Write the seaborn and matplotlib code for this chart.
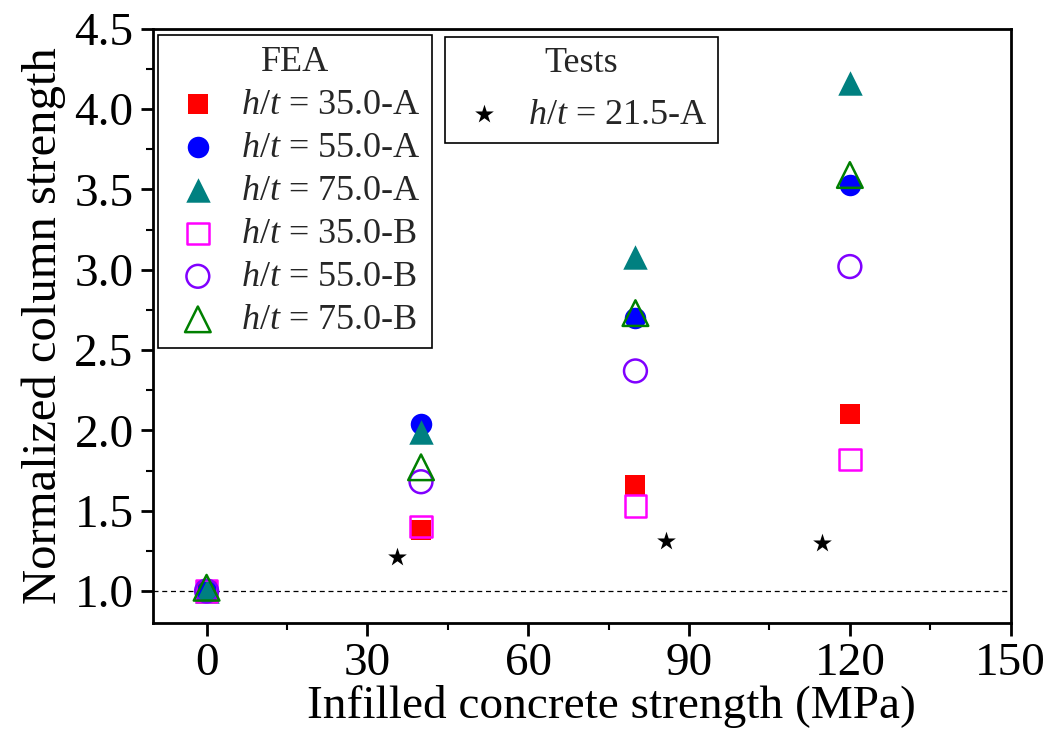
import matplotlib
matplotlib.use("Agg")
import matplotlib.pyplot as plt
import seaborn as sns
from matplotlib.ticker import MultipleLocator, FormatStrFormatter

# concrete strength (MPa) for the FEA runs
fea_x = [0, 40, 80, 120]

ht35_a = [1.00, 1.38, 1.66, 2.10]
ht55_a = [1.00, 2.04, 2.70, 3.53]
ht75_a = [1.00, 1.99, 3.08, 4.16]
ht35_b = [1.00, 1.40, 1.53, 1.82]
ht55_b = [1.00, 1.68, 2.37, 3.02]
ht75_b = [1.02, 1.77, 2.73, 3.59]

test_x = [35.5, 85.7, 114.8]
test_y = [1.21, 1.31, 1.30]

fea_labels = ["35.0-A", "55.0-A", "75.0-A", "35.0-B", "55.0-B", "75.0-B"]
test_label = "21.5-A"

sns.set_theme(style="white")
plt.rcParams["font.family"] = ["Liberation Serif", "DejaVu Serif"]
plt.rcParams["mathtext.fontset"] = "custom"
plt.rcParams["mathtext.rm"] = "Liberation Serif"
plt.rcParams["mathtext.it"] = "Liberation Serif:italic"

fig = plt.figure(figsize=(10.55, 7.4), dpi=100)
ax = fig.add_axes([0.145, 0.158, 0.813, 0.803])

series = [
    (ht35_a, "s", "#ff0000", True, 200),
    (ht55_a, "o", "#0000ff", True, 240),
    (ht75_a, "^", "#008080", True, 310),
    (ht35_b, "s", "#ff00ff", False, 240),
    (ht55_b, "o", "#8000ff", False, 270),
    (ht75_b, "^", "#008000", False, 340),
]

handles = []
for (vals, mk, col, filled, size), lab in zip(series, fea_labels):
    if filled:
        sns.scatterplot(x=fea_x, y=vals, marker=mk, color=col, s=size,
                        linewidth=0, ax=ax, legend=False, zorder=3)
    else:
        sns.scatterplot(x=fea_x, y=vals, marker=mk, facecolor="none", edgecolor=col,
                        s=size, linewidth=1.8, ax=ax, legend=False, zorder=4)
    handles.append(ax.collections[-1])

sns.scatterplot(x=test_x, y=test_y, marker="*", color="black", s=200,
                linewidth=0, ax=ax, legend=False, zorder=3)
star = ax.collections[-1]

ax.axhline(1.0, color="black", linestyle=(0, (4, 3)), linewidth=0.9, zorder=1)

ax.set_xlim(-10, 150)
ax.set_ylim(0.8, 4.5)
ax.xaxis.set_major_locator(MultipleLocator(30))
ax.xaxis.set_minor_locator(MultipleLocator(15))
ax.yaxis.set_major_locator(MultipleLocator(0.5))
ax.yaxis.set_minor_locator(MultipleLocator(0.25))
ax.yaxis.set_major_formatter(FormatStrFormatter("%.1f"))
ax.tick_params(which="major", direction="out", length=9, width=2, pad=5,
               labelsize=34, bottom=True, left=True, top=False, right=False,
               colors="black")
ax.tick_params(which="minor", direction="out", length=5, width=1.5,
               bottom=True, left=True, top=False, right=False, colors="black")
for sp in ax.spines.values():
    sp.set_visible(True)
    sp.set_color("black")
    sp.set_linewidth(2)

ax.set_xlabel("Infilled concrete strength (MPa)", fontsize=34, labelpad=0, color="black")
ax.xaxis.label.set_x(0.535)
ax.set_ylabel("Normalized column strength", fontsize=35, labelpad=6, color="black")

leg1 = ax.legend(handles, [f"$h/t$ = {v}" for v in fea_labels], title="FEA",
                 loc="upper left", bbox_to_anchor=(0.006, 0.99), fontsize=26,
                 title_fontsize=26, frameon=True, fancybox=False, edgecolor="black",
                 framealpha=1, labelspacing=0.27, handletextpad=0.4, borderpad=0.3,
                 handlelength=1.6, borderaxespad=0)
leg1.get_frame().set_linewidth(1.2)
ax.add_artist(leg1)

leg2 = ax.legend([star], [f"$h/t$ = {test_label}"], title="Tests",
                 loc="upper left", bbox_to_anchor=(0.34, 0.987), fontsize=26,
                 title_fontsize=26, frameon=True, fancybox=False, edgecolor="black",
                 framealpha=1, handletextpad=0.4, borderpad=0.3, handlelength=1.6,
                 borderaxespad=0)
leg2.get_frame().set_linewidth(1.2)

fig.savefig("out.png", dpi=100)
